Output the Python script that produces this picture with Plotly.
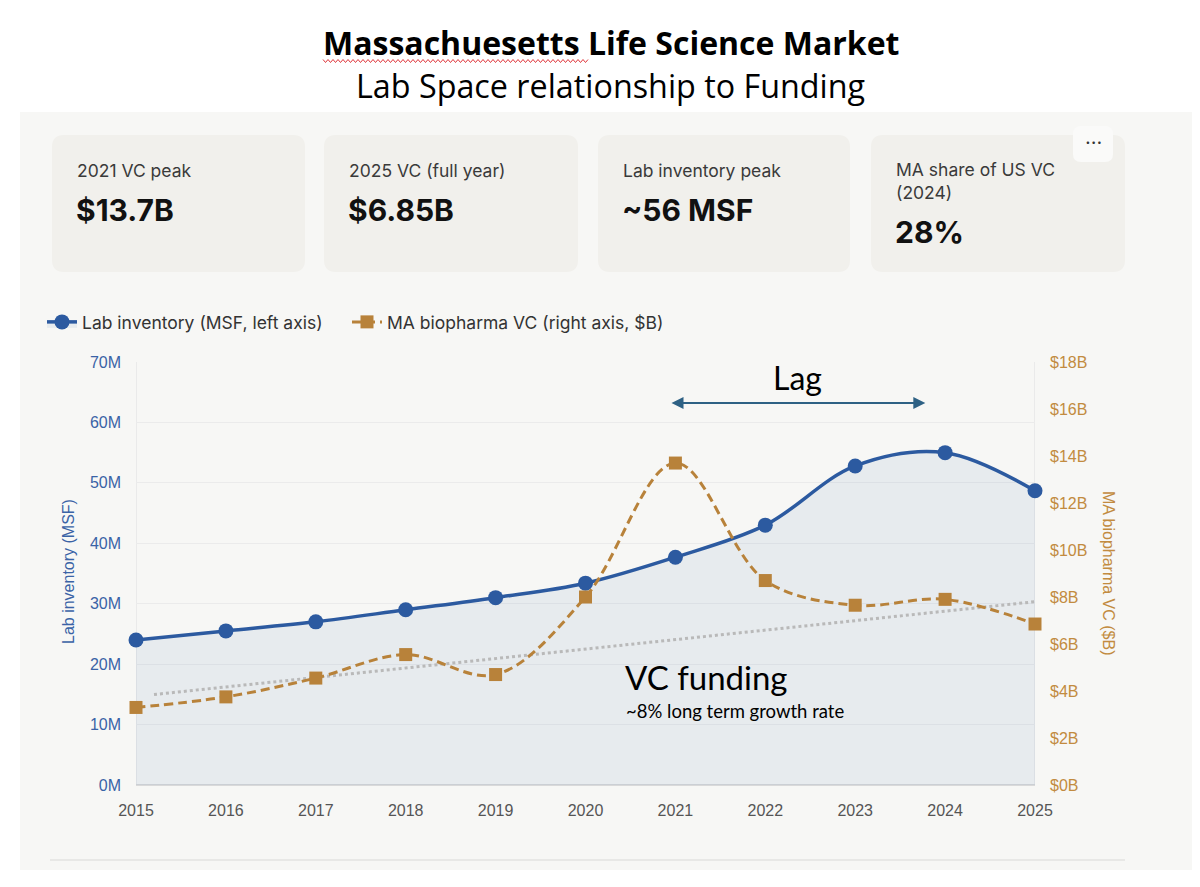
import plotly.graph_objects as go

# ---------------- data ----------------
years = [2015, 2016, 2017, 2018, 2019, 2020, 2021, 2022, 2023, 2024, 2025]
lab_inventory_msf = [24.0, 25.5, 27.0, 29.0, 31.0, 33.4, 37.7, 43.0, 52.8, 55.0, 48.7]
ma_vc_billion = [3.3, 3.75, 4.55, 5.55, 4.7, 8.0, 13.7, 8.7, 7.65, 7.9, 6.85]
trend_years = [2015.2, 2025]
trend_vc_billion = [3.85, 7.8]

left_tickvals = [0, 10, 20, 30, 40, 50, 60, 70]
left_ticktext = ["0M", "10M", "20M", "30M", "40M", "50M", "60M", "70M"]
right_tickvals = [0, 2, 4, 6, 8, 10, 12, 14, 16, 18]
right_ticktext = ["$0B", "$2B", "$4B", "$6B", "$8B", "$10B", "$12B", "$14B", "$16B", "$18B"]

kpi_labels = ["2021 VC peak", "2025 VC (full year)", "Lab inventory peak", "MA share of US VC<br>(2024)"]
kpi_values = ["$13.7B", "$6.85B", "~56 MSF", "28%"]

lag_start, lag_end, lag_level = 2020.94, 2023.78, 63.2

# ---------------- style ----------------
W, H = 1200, 887
OFF = 8  # page body margin
BLUE = "#2c5aa0"
BLUE_TXT = "#3a63a6"
ORANGE = "#b8823a"
ORANGE_TXT = "#c28b40"
PANEL = "#f7f7f5"
CARD = "#f1f0ec"


def X(px):
    return (px - OFF) / W


def Y(py):
    return 1 - (py - OFF) / H


def note(x, y, text, size, color="#000000", family="Open Sans", xanchor="center", **kw):
    return dict(xref="paper", yref="paper", x=x, y=y, text=text, showarrow=False,
                xanchor=xanchor, yanchor="middle", font=dict(family=family, size=size, color=color), **kw)


fig = go.Figure()

fig.add_trace(go.Scatter(
    x=years, y=lab_inventory_msf, name="Lab inventory (MSF, left axis)",
    mode="lines+markers", line=dict(color=BLUE, width=3.5, shape="spline", smoothing=1),
    marker=dict(size=15, color=BLUE, symbol="circle"),
    fill="tozeroy", fillcolor="rgba(44,90,160,0.075)", cliponaxis=False,
    yaxis="y", legend="legend"))

fig.add_trace(go.Scatter(
    x=trend_years, y=trend_vc_billion, name="trend", showlegend=False,
    mode="lines", line=dict(color="#b9b9b9", width=3, dash="dot"),
    hoverinfo="skip", yaxis="y2"))

fig.add_trace(go.Scatter(
    x=years, y=ma_vc_billion, name="MA biopharma VC (right axis, $B)",
    mode="lines+markers",
    line=dict(color=ORANGE, width=3, dash="9px,5px", shape="spline", smoothing=1),
    marker=dict(size=13, color=ORANGE, symbol="square"), cliponaxis=False,
    yaxis="y2", legend="legend2"))

shapes = []
annotations = []

# panel
shapes.append(dict(type="rect", xref="paper", yref="paper", x0=X(20), x1=X(1210), y0=Y(870), y1=Y(112),
                   fillcolor=PANEL, line=dict(width=0), layer="below"))


def rounded(x0, y0, x1, y1, r, fill):
    path = (f"M {X(x0 + r)},{Y(y0)} L {X(x1 - r)},{Y(y0)} Q {X(x1)},{Y(y0)} {X(x1)},{Y(y0 + r)} "
            f"L {X(x1)},{Y(y1 - r)} Q {X(x1)},{Y(y1)} {X(x1 - r)},{Y(y1)} "
            f"L {X(x0 + r)},{Y(y1)} Q {X(x0)},{Y(y1)} {X(x0)},{Y(y1 - r)} "
            f"L {X(x0)},{Y(y0 + r)} Q {X(x0)},{Y(y0)} {X(x0 + r)},{Y(y0)} Z")
    return dict(type="path", xref="paper", yref="paper", path=path, fillcolor=fill,
                line=dict(width=0), layer="below")


cards_x = [(52, 305), (324, 578), (598, 850), (871, 1125)]
for i, (cx0, cx1) in enumerate(cards_x):
    shapes.append(rounded(cx0, 135, cx1, 272, 12, CARD))
    label_y = 170 if i < 3 else 181
    annotations.append(note(X(cx0 + 23), Y(label_y), kpi_labels[i], 17.5, "#3a3a3a", "Inter",
                            xanchor="left", align="left"))
    val_y = 210 if i < 3 else 232
    annotations.append(note(X(cx0 + 22), Y(val_y), f"<b>{kpi_values[i]}</b>", 30, "#111111", "Inter",
                            xanchor="left"))

# "..." button
shapes.append(rounded(1073, 126, 1113, 162, 8, "#fafaf9"))
annotations.append(note(X(1093), Y(142), "<b>• • •</b>", 8, "#333333", "Inter"))

# title
annotations.append(note(X(611), Y(43), "<b>Massachuesetts Life Science Market</b>", 32))
annotations.append(note(X(611), Y(85), "Lab Space relationship to Funding", 32.3))
# spell-check squiggle under first word
zig = []
xx = 323
k = 0
while xx <= 590:
    zig.append(f"{'M' if k == 0 else 'L'} {X(xx)},{Y(61 + (1.5 if k % 2 else -1.5))}")
    xx += 2.5
    k += 1
shapes.append(dict(type="path", xref="paper", yref="paper", path=" ".join(zig),
                   line=dict(color="#e0393e", width=1)))

# bottom divider
shapes.append(dict(type="line", xref="paper", yref="paper", x0=X(50), x1=X(1125), y0=Y(860), y1=Y(860),
                   line=dict(color="#e3e3e1", width=1.5)))

# plot frame side lines
shapes.append(dict(type="line", xref="x", yref="paper", x0=2015, x1=2015, y0=Y(785), y1=Y(362),
                   line=dict(color="#e6e6e6", width=1.5), layer="below"))
shapes.append(dict(type="line", xref="x", yref="paper", x0=2025, x1=2025, y0=Y(785), y1=Y(362),
                   line=dict(color="#e6e6e6", width=1.5), layer="below"))

# Lag arrow
annotations.append(dict(xref="x", yref="y", x=lag_end, y=lag_level, axref="x", ayref="y",
                        ax=lag_start, ay=lag_level, text="", showarrow=True, arrowhead=2,
                        arrowside="end+start", arrowsize=1.2, arrowwidth=2, arrowcolor="#2e6184"))
annotations.append(dict(xref="x", yref="paper", x=(lag_start + lag_end) / 2, y=Y(377), text="Lag",
                        showarrow=False, xanchor="center", yanchor="middle",
                        font=dict(family="Lato", size=32, color="#000000")))

annotations.append(note(X(623), Y(677), "VC funding", 33, family="Lato", xanchor="left"))
annotations.append(note(X(624), Y(711), "~8% long term growth rate", 18.5, family="Lato", xanchor="left"))

# axis titles
annotations.append(note(X(68), Y(572), "Lab inventory (MSF)", 16, BLUE_TXT, "Liberation Sans", textangle=-90))
annotations.append(note(X(1109), Y(573), "MA biopharma VC ($B)", 16, ORANGE_TXT, "Liberation Sans", textangle=90))

legend_font = dict(family="Inter", size=17.5, color="#333333")

fig.update_layout(
    width=W, height=H,
    margin=dict(l=0, r=0, t=0, b=0, autoexpand=False),
    paper_bgcolor="#ffffff",
    plot_bgcolor="rgba(0,0,0,0)",
    shapes=shapes,
    annotations=annotations,
    showlegend=True,
    legend=dict(orientation="h", x=X(42), y=Y(322), xanchor="left", yanchor="middle",
                bgcolor="rgba(0,0,0,0)", font=legend_font, itemwidth=30),
    legend2=dict(orientation="h", x=X(347), y=Y(322), xanchor="left", yanchor="middle",
                 bgcolor="rgba(0,0,0,0)", font=legend_font, itemwidth=30),
    xaxis=dict(domain=[X(136), X(1035)], range=[2015, 2025], tickvals=years, automargin=False,
               showgrid=False, zeroline=False, showline=False,
               tickfont=dict(family="Liberation Sans", size=16, color="#555555"),
               ticks="", ticklabelstandoff=14, fixedrange=True),
    yaxis=dict(domain=[Y(785), Y(362)], range=[0, 70], tickvals=left_tickvals, ticktext=left_ticktext,
               automargin=False,
               showgrid=True, gridcolor="#ebebeb", gridwidth=1, zeroline=True, zerolinecolor="#d9d9d9",
               zerolinewidth=2, showline=False,
               tickfont=dict(family="Liberation Sans", size=16, color=BLUE_TXT),
               ticks="", ticklabelstandoff=14),
    yaxis2=dict(overlaying="y", side="right", range=[0, 18], tickvals=right_tickvals, automargin=False,
                ticktext=right_ticktext, showgrid=False, zeroline=False, showline=False,
                tickfont=dict(family="Liberation Sans", size=16, color=ORANGE_TXT),
                ticks="", ticklabelstandoff=14),
)

fig.write_html("out.html")
